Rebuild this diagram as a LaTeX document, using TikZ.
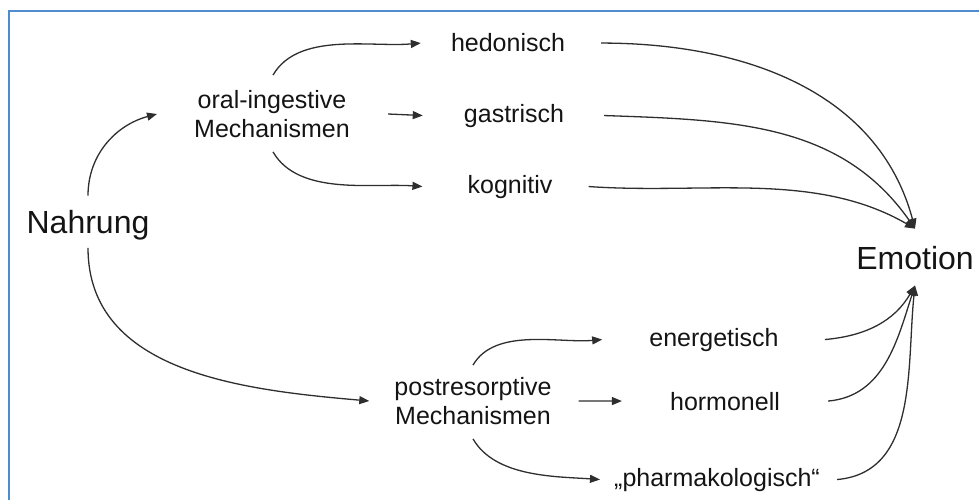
\documentclass[tikz,border=0pt]{standalone}
\usepackage{fontspec}
\setmainfont{Liberation Sans}
\usetikzlibrary{arrows.meta}
\definecolor{frameblue}{RGB}{80,140,205}

\begin{document}
\begin{tikzpicture}[x=1pt,y=-1pt,
  txt/.style={inner sep=0pt,font=\fontsize{25}{29}\selectfont,text=black!92,align=center},
  big/.style={inner sep=0pt,font=\fontsize{32}{38}\selectfont,text=black!92},
  arr/.style={draw=black!82,line width=1.3pt,-{Triangle[length=10pt,width=8pt]}},
  frame/.style={draw=frameblue,line width=2pt}]
\useasboundingbox (0,0) rectangle (979,500);
\draw[frame] (9,11) rectangle (1000,520);

% nodes
\node[big,anchor=base] (nahrung) at (88,233) {Nahrung};
\node[txt] (oral) at (272,114) {oral-ingestive\\Mechanismen};
\node[txt] (post) at (473,401) {postresorptive\\Mechanismen};
\node[txt,anchor=base] (hed) at (508,52) {hedonisch};
\node[txt,anchor=base] (gas) at (514,122) {gastrisch};
\node[txt,anchor=base] (kog) at (510,193) {kognitiv};
\node[txt,anchor=base] (ene) at (714,346) {energetisch};
\node[txt,anchor=base] (hor) at (725,410) {hormonell};
\node[txt,anchor=base] (pha) at (717,486) {„pharmakologisch“};
\node[big,anchor=base] (emo) at (915,269) {Emotion};

% arrows
\draw[arr] ([yshift=14pt]nahrung.north) to[out=90,in=195] ([xshift=-37pt]oral.west);
\draw[arr] ([yshift=-8pt]nahrung.south) to[out=-90,in=175] ([xshift=-25pt]post.west);

\draw[arr] ([xshift=1pt,yshift=15pt]oral.north) to[out=60,in=185,looseness=0.85] ([xshift=-30pt]hed.west);
\draw[arr] ([xshift=38pt]oral.east) -- ([xshift=-41pt]gas.west);
\draw[arr] ([xshift=1pt,yshift=-14pt]oral.south) to[out=-60,in=176,looseness=0.85] ([xshift=-45pt]kog.west);

\draw[arr] ([yshift=12pt]post.north) to[out=60,in=185,looseness=0.85] ([xshift=-47pt]ene.west);
\draw[arr] ([xshift=27pt]post.east) -- ([xshift=-48pt]hor.west);
\draw[arr] ([yshift=-14pt]post.south) to[out=-60,in=176,looseness=0.85] ([xshift=-14pt]pha.west);

\draw[arr] ([xshift=36pt]hed.east) to[out=0,in=105] ([yshift=17pt]emo.north);
\draw[arr] ([xshift=40pt]gas.east) to[out=-2,in=125] ([yshift=17pt]emo.north);
\draw[arr] ([xshift=36pt]kog.east) to[out=-4,in=150,looseness=0.9] ([yshift=17pt]emo.north);

\draw[arr] ([xshift=46pt]ene.east) to[out=5,in=240] ([yshift=-16pt]emo.south);
\draw[arr] ([xshift=48pt]hor.east) to[out=5,in=252] ([yshift=-16pt]emo.south);
\draw[arr] ([xshift=17pt]pha.east) to[out=5,in=264] ([yshift=-16pt]emo.south);
\end{tikzpicture}
\end{document}
